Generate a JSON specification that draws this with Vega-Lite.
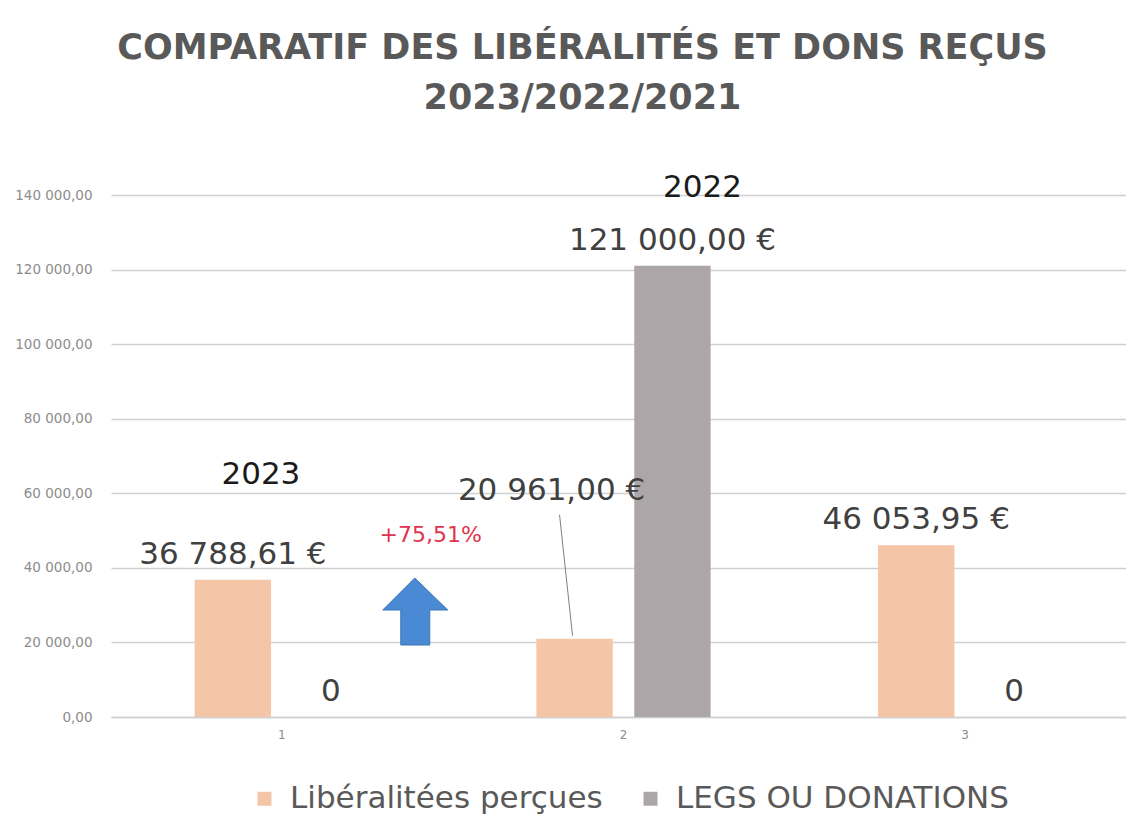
{
  "$schema": "https://vega.github.io/schema/vega-lite/v6.json",
  "autosize": "none",
  "width": 1015,
  "height": 522,
  "padding": {"left": 111, "top": 195, "right": 0, "bottom": 106},
  "background": "white",
  "config": {
    "locale": {"number": {"decimal": ",", "thousands": "\u00a0", "grouping": [3], "currency": ["", " €"]}},
    "view": {"stroke": null},
    "font": "DejaVu Sans"
  },
  "title": {
    "text": ["COMPARATIF DES LIBÉRALITÉS ET DONS REÇUS", "2023/2022/2021"],
    "fontSize": 35,
    "font": "DejaVu Sans",
    "fontWeight": "bold",
    "color": "#595959",
    "anchor": "middle",
    "dx": -36,
    "offset": 56,
    "lineHeight": 50
  },
  "data": {
    "values": [
      {"cat": "1", "serie": "Libéralitées perçues", "value": 36788.61, "label": "36 788,61 €"},
      {"cat": "1", "serie": "LEGS OU DONATIONS", "value": 0, "label": "0"},
      {"cat": "2", "serie": "Libéralitées perçues", "value": 20961, "label": "20 961,00 €"},
      {"cat": "2", "serie": "LEGS OU DONATIONS", "value": 121000, "label": "121 000,00 €"},
      {"cat": "3", "serie": "Libéralitées perçues", "value": 46053.95, "label": "46 053,95 €"},
      {"cat": "3", "serie": "LEGS OU DONATIONS", "value": 0, "label": "0"}
    ]
  },
  "encoding": {
    "x": {
      "field": "cat", "type": "nominal",
      "scale": {"range": [0, 1025], "paddingInner": 0.427, "paddingOuter": 0.2135},
      "axis": {"title": null, "labelAngle": 0, "labelFontSize": 12, "labelColor": "#8c8c8c", "ticks": false, "domain": true, "domainColor": "#d0d0d0", "domainWidth": 1.5, "labelPadding": 12}
    },
    "xOffset": {
      "field": "serie", "type": "nominal",
      "sort": ["Libéralitées perçues", "LEGS OU DONATIONS"],
      "scale": {"paddingInner": 0.22, "paddingOuter": 0.11}
    },
    "y": {
      "field": "value", "type": "quantitative",
      "scale": {"domain": [0, 140000], "nice": false},
      "axis": {"title": null, "values": [0, 20000, 40000, 60000, 80000, 100000, 120000, 140000], "format": ",.2f", "labelFontSize": 13.5, "labelColor": "#8c8c8c", "labelPadding": 19, "ticks": false, "domain": false, "grid": true, "gridColor": "#d0d0d0", "gridWidth": 1.5}
    }
  },
  "layer": [
    {
      "mark": {"type": "bar"},
      "encoding": {
        "color": {
          "field": "serie", "type": "nominal",
          "scale": {"domain": ["Libéralitées perçues", "LEGS OU DONATIONS"], "range": ["#f4c5a6", "#aca6a8"]},
          "legend": {"orient": "none", "legendX": 138, "legendY": 588, "direction": "horizontal", "title": null, "labelFontSize": 31, "labelColor": "#595959", "labelLimit": 0, "symbolType": "square", "symbolSize": 196, "symbolStrokeWidth": 0, "columnPadding": 32, "labelOffset": 10}
        }
      }
    },
    {
      "transform": [{"filter": "!(datum.cat == '2' && datum.serie == 'Libéralitées perçues')"}],
      "mark": {"type": "text", "fontSize": 31, "color": "#404040", "dy": -16, "baseline": "alphabetic"},
      "encoding": {"text": {"field": "label"}}
    },
    {
      "transform": [{"filter": "datum.cat == '2' && datum.serie == 'Libéralitées perçues'"}],
      "mark": {"type": "text", "fontSize": 31, "color": "#404040", "dx": -23, "dy": -139, "baseline": "alphabetic"},
      "encoding": {"text": {"field": "label"}}
    },
    {
      "transform": [{"filter": "datum.cat == '1' && datum.serie == 'Libéralitées perçues'"}],
      "mark": {"type": "text", "fontSize": 31, "color": "#1a1a1a", "dx": 28, "dy": -96, "baseline": "alphabetic"},
      "encoding": {"text": {"value": "2023"}}
    },
    {
      "transform": [{"filter": "datum.cat == '2' && datum.serie == 'LEGS OU DONATIONS'"}],
      "mark": {"type": "text", "fontSize": 31, "color": "#1a1a1a", "dx": 30, "dy": -69, "baseline": "alphabetic"},
      "encoding": {"text": {"value": "2022"}}
    },
    {
      "transform": [{"filter": "datum.cat == '1' && datum.serie == 'LEGS OU DONATIONS'"}],
      "mark": {"type": "text", "fontSize": 22, "color": "#e0334d", "dx": 100, "dy": -175, "baseline": "alphabetic"},
      "encoding": {"text": {"value": "+75,51%"}}
    },
    {
      "transform": [{"filter": "datum.cat == '1' && datum.serie == 'LEGS OU DONATIONS'"}],
      "mark": {"type": "point", "shape": "M 84 -139 L 117 -107 L 99 -107 L 99 -72 L 70 -72 L 70 -107 L 52 -107 Z", "size": 4, "filled": true, "fill": "#4a8ad4", "stroke": "#3d74b5", "strokeWidth": 1, "opacity": 1},
      "encoding": {}
    },
    {
      "transform": [{"filter": "datum.cat == '2' && datum.serie == 'Libéralitées perçues'"}],
      "mark": {"type": "point", "shape": "M -2 -3 L -15 -124", "size": 4, "filled": false, "stroke": "#7f7f7f", "strokeWidth": 1, "opacity": 1},
      "encoding": {}
    }
  ]
}
